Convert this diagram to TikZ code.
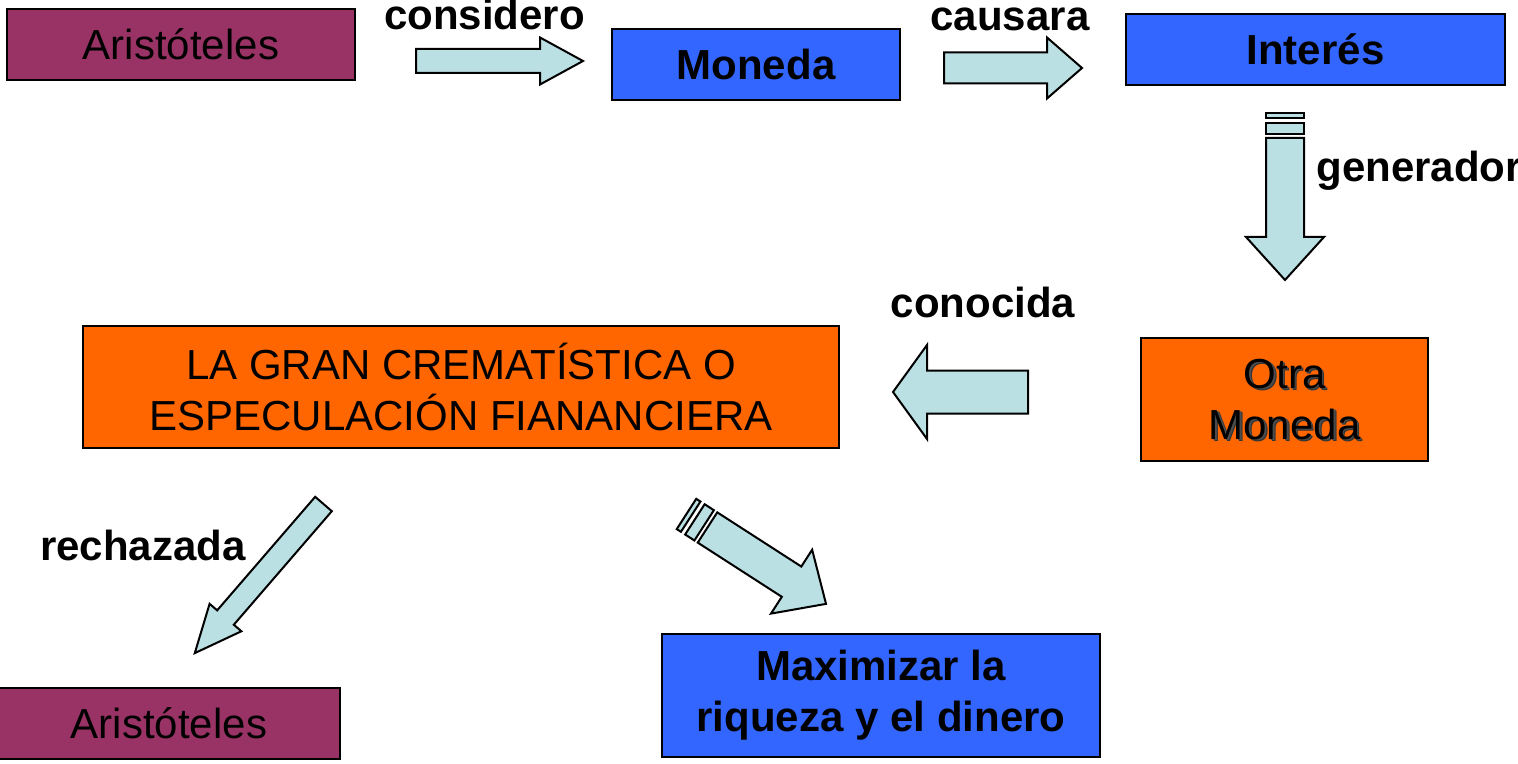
\documentclass[tikz,border=0pt]{standalone}
\usepackage{fontspec}
\setmainfont{Liberation Sans}
\usetikzlibrary{calc}
\definecolor{plum}{RGB}{153,51,102}
\definecolor{bblue}{RGB}{51,102,255}
\definecolor{orng}{RGB}{255,102,0}
\definecolor{acyan}{RGB}{187,224,227}
% #1 x, #2 y (tail centre), #3 angle, #4 length, #5 body width, #6 head width, #7 head length
\newcommand\blockarrow[7]{%
  \begin{scope}[shift={(#1,#2)}, rotate=#3]
    \draw[barrowstyle] (0,-#5/2) -- ({#4-#7},-#5/2) -- ({#4-#7},-#6/2) -- (#4,0)
      -- ({#4-#7},#6/2) -- ({#4-#7},#5/2) -- (0,#5/2) -- cycle;
  \end{scope}}
% #1 x, #2 y (tail centre), #3 angle, #4 body width
\newcommand\arrowstripes[4]{%
  \begin{scope}[shift={(#1,#2)}, rotate=#3]
    \draw[barrowstyle] (-15,-#4/2) rectangle (-4,#4/2);
    \draw[barrowstyle] (-25,-#4/2) rectangle (-20,#4/2);
  \end{scope}}
\begin{document}
\begin{tikzpicture}[x=0.5pt,y=-0.5pt,
  box/.style={draw=black, line width=1pt, inner sep=0pt, outer sep=0pt, align=center,
    font=\fontsize{21}{25.5}\selectfont},
  boldbox/.style={box, font=\fontsize{21}{25.5}\selectfont\bfseries},
  plaintext/.style={inner sep=0pt, align=center, font=\fontsize{21}{25.5}\selectfont},
  lbl/.style={inner sep=0pt, font=\fontsize{21}{25.5}\selectfont\bfseries},
  barrowstyle/.style={draw=black, fill=acyan, line width=1pt, line join=miter}]
\useasboundingbox (0,0) rectangle (1518,764);

% boxes
\node[box, fill=plum, minimum width=174pt, minimum height=35.5pt] (ari1) at (181,44.5) {Aristóteles};
\node[boldbox, fill=bblue, minimum width=144pt, minimum height=35.5pt] (mon) at (756,64.5) {Moneda};
\node[boldbox, fill=bblue, minimum width=189.5pt, minimum height=35.5pt] (int) at (1315.5,49.5) {Interés};
\node[box, fill=orng, minimum width=378pt, minimum height=61pt] (gran) at (461,387) {LA GRAN CREMATÍSTICA O\\ESPECULACIÓN FIANANCIERA};
\node[box, fill=orng, minimum width=143.5pt, minimum height=61.5pt] (otra) at (1284.5,399.5) {};
\node[plaintext, text=black!80] (otrashadow) at (1287,402) {Otra\\Moneda};
\node[plaintext, text=black!70] (otrashadow2) at (1286,401) {Otra\\Moneda};
\node[plaintext] (otratxt) at (otra) {Otra\\Moneda};
\node[box, fill=plum, minimum width=171pt, minimum height=35.5pt] (ari2) at (169,723.5) {Aristóteles};
\node[boldbox, fill=bblue, minimum width=219pt, minimum height=61.5pt] (max) at (881,695.5) {Maximizar la\\riqueza y el dinero};

% labels
\node[lbl, anchor=base] (l1) at (484.5,30) {considero};
\node[lbl, anchor=base] (l2) at (1010,31) {causara};
\node[lbl, anchor=base west] (l3) at (1316,182) {generador};
\node[lbl, anchor=base] (l4) at (983,318) {conocida};
\node[lbl, anchor=base] (l5) at (143,560) {rechazada};

% block arrows
\blockarrow{416}{61}{0}{167}{24}{47}{43}
\blockarrow{944}{68}{0}{138}{31}{61}{35}
\arrowstripes{1285}{138}{-90}{38}
\blockarrow{1285}{138}{-90}{142}{38}{78}{43}
\blockarrow{1028}{392}{180}{135}{43}{94}{34}
\arrowstripes{707.5}{527.5}{-32.8}{36}
\blockarrow{707.5}{527.5}{-32.8}{141}{36}{76}{41}
\blockarrow{323.5}{504}{-130.8}{197}{22}{42}{47}
\end{tikzpicture}
\end{document}
